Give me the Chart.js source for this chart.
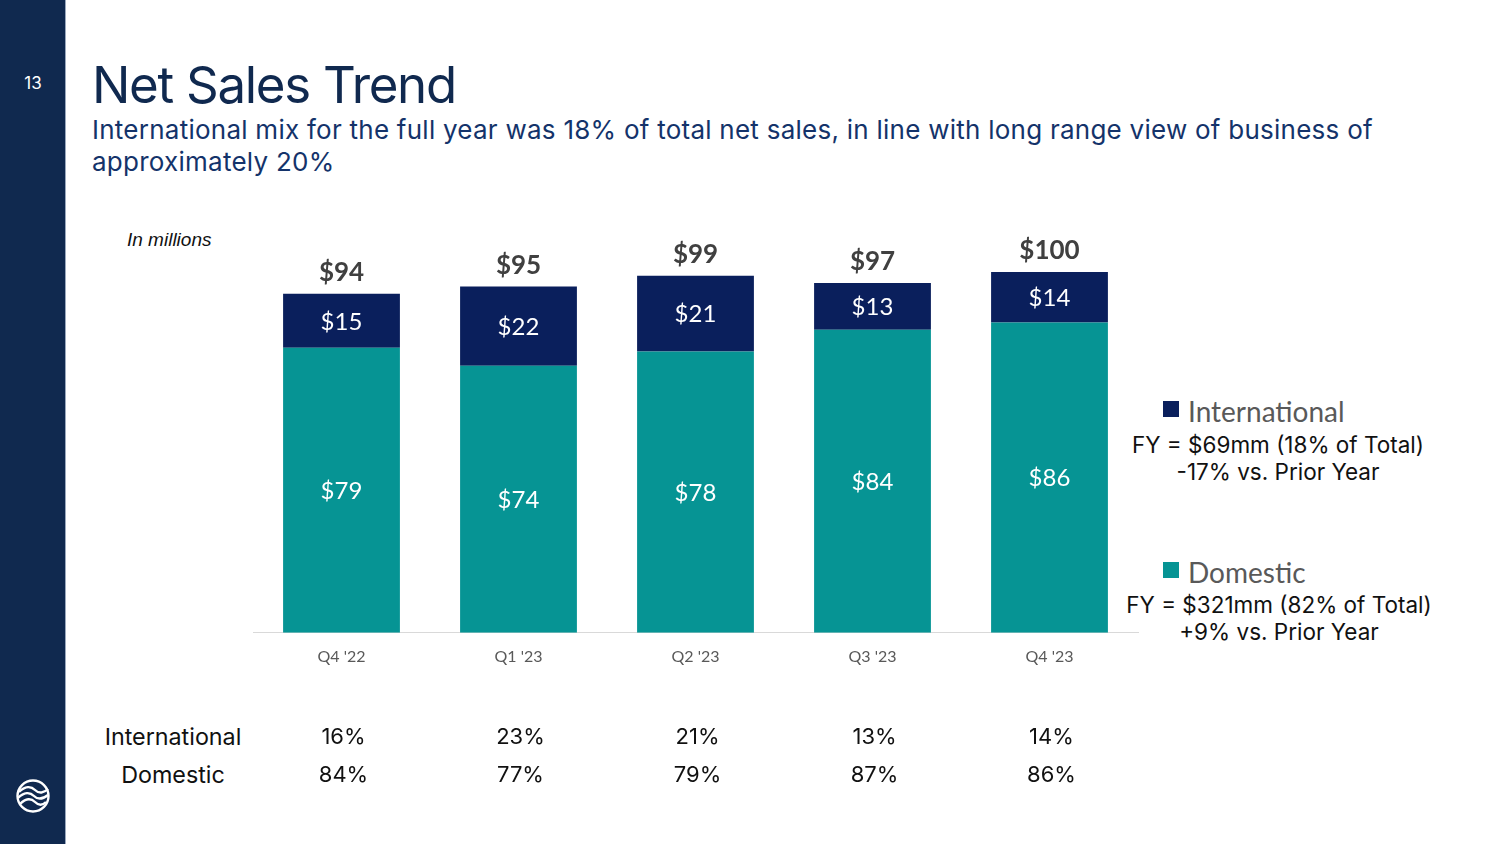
<!DOCTYPE html>
<html>
<head>
<meta charset="utf-8">
<script src="https://cdn.jsdelivr.net/npm/chart.js@4.4.1/dist/chart.umd.min.js"></script>
<style>
  html, body { margin: 0; padding: 0; background: #fff; }
  body { width: 1500px; height: 844px; position: relative; overflow: hidden; font-family: Inter, "Noto Sans", sans-serif; }
  .side { position: absolute; left: 0; top: 0; width: 65px; height: 844px; background: #10294f; border-right: 1px solid #9aa8bd; }
  .pg { position: absolute; left: 0; width: 66px; top: 73px; text-align: center; color: #fff; font-size: 17px; }
  .logo { position: absolute; left: 15px; top: 778px; }
  .title { position: absolute; left: 92px; top: 54px; font-size: 51px; letter-spacing: -1.3px; color: #10294f; white-space: nowrap; }
  .sub { position: absolute; left: 92px; top: 114px; font-size: 26px; letter-spacing: 0.25px; line-height: 31.5px; color: #14336a; white-space: nowrap; }
  .unit { position: absolute; left: 127px; top: 229px; font-size: 19px; font-style: italic; color: #111; font-family: "Liberation Sans", Arial, sans-serif; }
  .lg { position: absolute; white-space: nowrap; }
  .lg .sw { display: inline-block; width: 16px; height: 16px; vertical-align: middle; margin-right: 9px; position: relative; top: -2px; }
  .lg .nm { font-family: Lato, "Open Sans", sans-serif; font-size: 28px; color: #595959; vertical-align: middle; }
  .fy { position: absolute; width: 360px; text-align: center; font-size: 22.5px; line-height: 27px; color: #111; white-space: nowrap; }
  .rowlab { position: absolute; width: 160px; text-align: center; font-size: 23.3px; color: #111; }
  canvas { position: absolute; left: 0; top: 0; z-index: 2; }
</style>
</head>
<body>
<div class="side"></div>
<div class="pg">13</div>
<svg class="logo" width="36" height="36" viewBox="0 0 36 36">
  <circle cx="18" cy="18" r="15.5" fill="none" stroke="#fff" stroke-width="2.4"/>
  <path d="M4 14 C10 8 16 8 20 12 C24 16 29 15 33 11" fill="none" stroke="#fff" stroke-width="2.4"/>
  <path d="M3 20 C9 14 15 14 19 18 C23 22 28 21 33 17" fill="none" stroke="#fff" stroke-width="2.4"/>
  <path d="M5 26 C11 20 16 20 20 24 C24 28 28 27 31 24" fill="none" stroke="#fff" stroke-width="2.4"/>
</svg>

<div class="title">Net Sales Trend</div>
<div class="sub">International mix for the full year was 18% of total net sales, in line with long range view of business of<br>approximately 20%</div>
<div class="unit">In millions</div>

<div class="lg" style="left:1163px; top:394px;"><span class="sw" style="background:#0a1f5c"></span><span class="nm">International</span></div>
<div class="fy" style="left:1098px; top:431px;">FY = $69mm (18% of Total)<br>-17% vs. Prior Year</div>
<div class="lg" style="left:1163px; top:555px;"><span class="sw" style="background:#069494"></span><span class="nm">Domestic</span></div>
<div class="fy" style="left:1099px; top:591px;">FY = $321mm (82% of Total)<br>+9% vs. Prior Year</div>

<div class="rowlab" style="left:93px; top:722px;">International</div>
<div class="rowlab" style="left:93px; top:760px;">Domestic</div>

<canvas id="c" width="1500" height="844"></canvas>

<script>
// quarters and values ($ millions)
const quarters = ["Q4 '22", "Q1 '23", "Q2 '23", "Q3 '23", "Q4 '23"];
const domestic = [79, 74, 78, 84, 86];
const international = [15, 22, 21, 13, 14];
const totals = [94, 95, 99, 97, 100];
const intlMix = ["16%", "23%", "21%", "13%", "14%"];
const domMix = ["84%", "77%", "79%", "87%", "86%"];

const navy = '#0a1f5c';
const teal = '#069494';

// draws value labels, totals and the mix rows
const labelPlugin = {
  id: 'labels',
  afterDatasetsDraw(chart) {
    const ctx = chart.ctx;
    ctx.save();
    ctx.textAlign = 'center';
    ctx.textBaseline = 'middle';
    ctx.font = '24px Lato, "Open Sans", sans-serif';
    ctx.fillStyle = '#fff';
    chart.data.datasets.forEach((ds, i) => {
      chart.getDatasetMeta(i).data.forEach((bar, j) => {
        const p = bar.getProps(['x', 'y', 'base'], true);
        ctx.fillText('$' + ds.data[j], p.x, (p.y + p.base) / 2 + 1);
      });
    });
    // totals above bars
    ctx.font = 'bold 26px Lato, "Open Sans", sans-serif';
    ctx.fillStyle = '#404040';
    ctx.textBaseline = 'alphabetic';
    chart.getDatasetMeta(1).data.forEach((bar, j) => {
      ctx.fillText('$' + totals[j], bar.x, bar.y - 13);
    });
    // mix table
    const xs = chart.scales.x;
    ctx.font = '22px Inter, "Noto Sans", sans-serif';
    ctx.fillStyle = '#111';
    ctx.textBaseline = 'middle';
    quarters.forEach((q, j) => {
      const x = xs.getPixelForValue(j) + 2;
      ctx.fillText(intlMix[j], x, 737);
      ctx.fillText(domMix[j], x, 775);
    });
    ctx.restore();
  }
};

new Chart(document.getElementById('c'), {
  type: 'bar',
  data: {
    labels: quarters,
    datasets: [
      { label: 'Domestic', data: domestic, backgroundColor: teal, barPercentage: 0.66, categoryPercentage: 1 },
      { label: 'International', data: international, backgroundColor: navy, barPercentage: 0.66, categoryPercentage: 1 }
    ]
  },
  options: {
    responsive: false,
    animation: false,
    layout: { padding: { left: 253, right: 362, top: 236, bottom: 172 } },
    plugins: { legend: { display: false }, tooltip: { enabled: false } },
    scales: {
      x: {
        stacked: true,
        grid: { display: false },
        border: { display: true, color: '#d9d9d9', width: 1 },
        ticks: { color: '#595959', padding: 6, font: { size: 16, family: 'Lato, "Open Sans", sans-serif' } }
      },
      y: {
        stacked: true,
        display: false,
        min: 0,
        max: 110
      }
    }
  },
  plugins: [labelPlugin]
});
</script>
</body>
</html>
